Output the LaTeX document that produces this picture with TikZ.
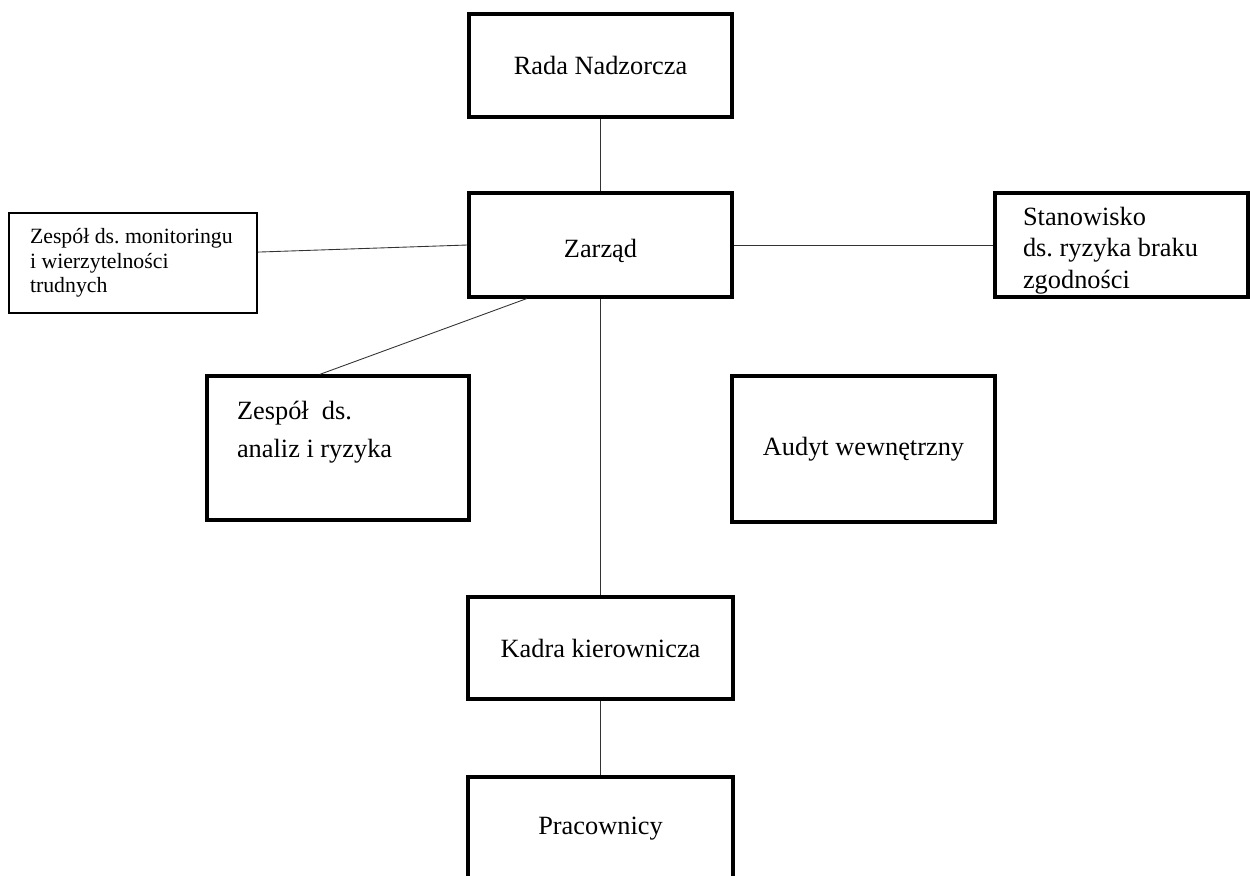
\documentclass[tikz,border=0pt]{standalone}
\usepackage{fontspec}
\setmainfont{Liberation Serif}
\frenchspacing
\begin{document}
\begin{tikzpicture}[x=0.02cm,y=-0.02cm,
		box/.style={draw,line width=1.8pt,inner sep=0pt,font=\fontsize{15}{18}\selectfont},
		smallbox/.style={draw,line width=0.9pt,inner sep=0pt,font=\fontsize{12.4}{14}\selectfont},
		link/.style={line width=0.5pt,black!80}]
			\useasboundingbox (0,0) rectangle (1250,875);
			% main chain
			\node[box,minimum width=5.26cm,minimum height=2.06cm] (rada) at (600.5,65.5) {Rada Nadzorcza};
			\node[box,minimum width=5.26cm,minimum height=2.08cm] (zarzad) at (600.5,245) {\rule{0pt}{17pt}Zarząd};
			\node[box,minimum width=5.3cm,minimum height=2.04cm] (kadra) at (600.5,648) {Kadra kierownicza};
			\node[box,minimum width=5.3cm,minimum height=2.06cm] (prac) at (600.5,828.5) {Pracownicy};
			% side units
			\node[smallbox,minimum width=4.96cm,minimum height=2cm,inner xsep=0.42cm,text width=4.12cm,align=flush left] (monit) at (133,263)
				{Zespół ds. monitoringu\\i wierzytelności\\trudnych};
			\node[box,minimum width=5.06cm,minimum height=2.08cm,inner xsep=0.56cm,text width=3.94cm,align=flush left] (stan) at (1121.5,245)
				{\rule{0pt}{16.5pt}Stanowisko\\ds. ryzyka braku\\zgodności};
			\node[box,minimum width=5.24cm,minimum height=2.88cm,inner xsep=0.6cm,text width=4.04cm,align=flush left,
				font=\fontsize{15}{21.6}\selectfont] (analiz) at (338,448)
				{Zespół~ ds.\\analiz i ryzyka\\\mbox{}};
			\node[box,minimum width=5.26cm,minimum height=2.92cm] (audyt) at (863.5,449) {Audyt wewnętrzny};
			% connectors
			\draw[link] (rada.south) -- (zarzad.north);
			\draw[link] (zarzad.south) -- (kadra.north);
			\draw[link] (kadra.south) -- (prac.north);
			\draw[link] (monit.5) -- (zarzad.west);
			\draw[link] (zarzad.east) -- (stan.west);
			\draw[link] (analiz.104) -- (zarzad.216.6);
		\end{tikzpicture}
\end{document}
